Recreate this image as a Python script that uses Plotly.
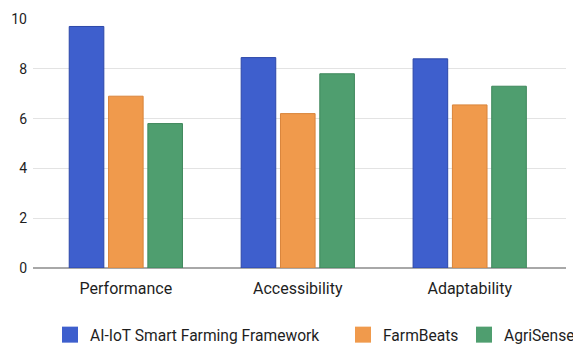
import plotly.graph_objects as go

categories = ["Performance", "Accessibility", "Adaptability"]
series_names = ["AI-IoT Smart Farming Framework", "FarmBeats", "AgriSense"]
ai_iot = [9.7, 8.45, 8.4]
farmbeats = [6.9, 6.2, 6.55]
agrisense = [5.8, 7.8, 7.3]
y_ticks = [0, 2, 4, 6, 8, 10]

fills = ["#3E5FCD", "#F09A4C", "#4F9E6F"]
edges = ["#2C47A8", "#D9843A", "#3E875B"]
legend_ids = ["legend", "legend2", "legend3"]
legend_x = [50, 343, 464]  # left edge of each legend entry, px

W, H = 573, 345
FAMILY = "Roboto, Arial, sans-serif"
INK = "#1E1E1E"

fig = go.Figure()
for name, vals, fc, ec in zip(series_names, [ai_iot, farmbeats, agrisense],
                              fills, edges):
    fig.add_trace(go.Bar(
        x=categories, y=vals, name=name, showlegend=False,
        marker=dict(color=fc, line=dict(color=ec, width=1)),
    ))

# legend-only entries with larger square swatches
for name, fc, lg in zip(series_names, fills, legend_ids):
    fig.add_trace(go.Scatter(
        x=[None], y=[None], name=name, legend=lg, mode="markers",
        marker=dict(symbol="square", size=16, color=fc,
                    line=dict(width=0)),
    ))

legend_common = dict(
    orientation="h", xref="container", yref="container",
    yanchor="middle", xanchor="left", y=1 - 335 / H,
    font=dict(family=FAMILY, size=15.6, color=INK),
    bgcolor="rgba(0,0,0,0)", borderwidth=0, itemsizing="trace",
    itemclick=False, itemdoubleclick=False,
)
layout_legends = {lg: dict(legend_common, x=lx / W)
                  for lg, lx in zip(legend_ids, legend_x)}

fig.update_layout(
    width=W, height=H,
    margin=dict(l=33, r=7, t=19, b=77),
    paper_bgcolor="white", plot_bgcolor="white",
    font=dict(family=FAMILY, size=14, color=INK),
    barmode="group", bargap=0.314, bargroupgap=0.12,
    showlegend=True,
    xaxis=dict(
        range=[-0.54, 2.56], showgrid=False, zeroline=False,
        showline=False, ticks="",
        tickfont=dict(family=FAMILY, size=16, color=INK),
        ticklabelstandoff=9,
    ),
    yaxis=dict(
        range=[0, 10], tickvals=y_ticks, showgrid=True,
        gridcolor="#E3E3E3", gridwidth=1,
        zeroline=True, zerolinecolor="#A8A8A8", zerolinewidth=2,
        showline=False, ticks="",
        tickfont=dict(family=FAMILY, size=14, color=INK),
        ticklabelstandoff=5,
    ),
    **layout_legends,
)

fig.write_html("out.html")
